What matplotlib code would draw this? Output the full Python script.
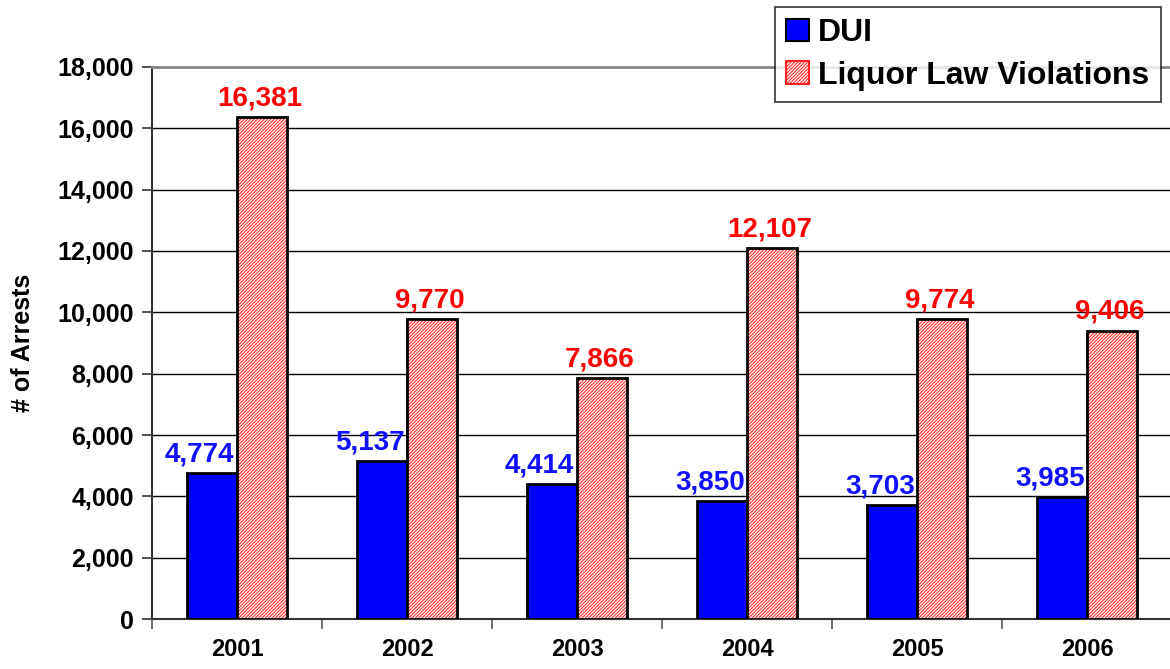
import matplotlib
matplotlib.use("Agg")
import matplotlib.pyplot as plt
import numpy as np
from matplotlib.patches import Patch

years = ["2001", "2002", "2003", "2004", "2005", "2006"]
dui = [4774, 5137, 4414, 3850, 3703, 3985]
liquor = [16381, 9770, 7866, 12107, 9774, 9406]
series_names = ["DUI", "Liquor Law Violations"]

plt.rcParams['font.family'] = ['Liberation Sans', 'DejaVu Sans']
plt.rcParams['font.weight'] = 'bold'
plt.rcParams['hatch.linewidth'] = 0.7

fig = plt.figure(figsize=(11.7, 6.69), dpi=100)
ax = fig.add_axes([0.13, 0.0747, 0.872, 0.8252])

x = np.arange(len(years))
w = 0.294
hatch = '/' * 10

ax.bar(x - w/2, dui, w, color='#0000FF', edgecolor='black', linewidth=2, zorder=3)
ax.bar(x + w/2, liquor, w, color='#FFF4F4', edgecolor='#FF2020', hatch=hatch, linewidth=0, zorder=3)
ax.bar(x + w/2, liquor, w, facecolor='none', edgecolor='black', linewidth=2, zorder=4)

for xi, v in zip(x, dui):
    ax.annotate(f"{v:,}", (xi - w/2, v), xytext=(-9, 4), textcoords='offset points',
                ha='center', va='bottom', color='#1010FF', fontsize=20, fontweight='bold')
for xi, v in zip(x, liquor):
    ax.annotate(f"{v:,}", (xi + w/2, v), xytext=(-2, 4), textcoords='offset points',
                ha='center', va='bottom', color='#FF0000', fontsize=20, fontweight='bold')

ax.set_ylim(0, 18000)
ax.set_xlim(-0.5, len(years) - 0.5)
ax.set_yticks(np.arange(0, 18001, 2000))
ax.set_yticklabels([f"{t:,}" for t in range(0, 18001, 2000)], fontsize=18, fontweight='bold')
ax.yaxis.grid(True, color='black', linewidth=1.0, zorder=0)
ax.set_axisbelow(True)

ax.set_xticks(np.arange(-0.5, len(years), 1.0))
ax.set_xticklabels([])
ax.set_xticks(x, minor=True)
ax.set_xticklabels(years, minor=True, fontsize=17, fontweight='bold')
ax.tick_params(axis='x', which='minor', length=0, pad=14)
ax.tick_params(axis='x', which='major', length=7, width=1.2, direction='out', color='#555555')
ax.tick_params(axis='y', length=7, width=1.2, direction='out', color='#333333', pad=6)

ax.set_ylabel("# of Arrests", fontsize=18, fontweight='bold', labelpad=16)

ax.spines['top'].set_color('#888888')
ax.spines['top'].set_linewidth(2)
ax.spines['right'].set_visible(False)
ax.spines['left'].set_color('#333333')
ax.spines['left'].set_linewidth(1.5)
ax.spines['bottom'].set_color('#333333')
ax.spines['bottom'].set_linewidth(1.5)

handles = [Patch(facecolor='#0000FF', edgecolor='black', linewidth=1.5),
           Patch(facecolor='#FFF4F4', edgecolor='#FF2020', hatch=hatch, linewidth=1.5)]
leg = fig.legend(handles, series_names, loc='upper right', bbox_to_anchor=(0.992, 0.99),
                 fontsize=23, frameon=True, fancybox=False, edgecolor='black',
                 handlelength=0.7, handleheight=0.7, handletextpad=0.3, borderpad=0.35,
                 labelspacing=0.4, borderaxespad=0)
leg.get_frame().set_linewidth(1.2)
for t in leg.get_texts():
    t.set_fontweight('bold')

fig.savefig("out.png", dpi=100)
